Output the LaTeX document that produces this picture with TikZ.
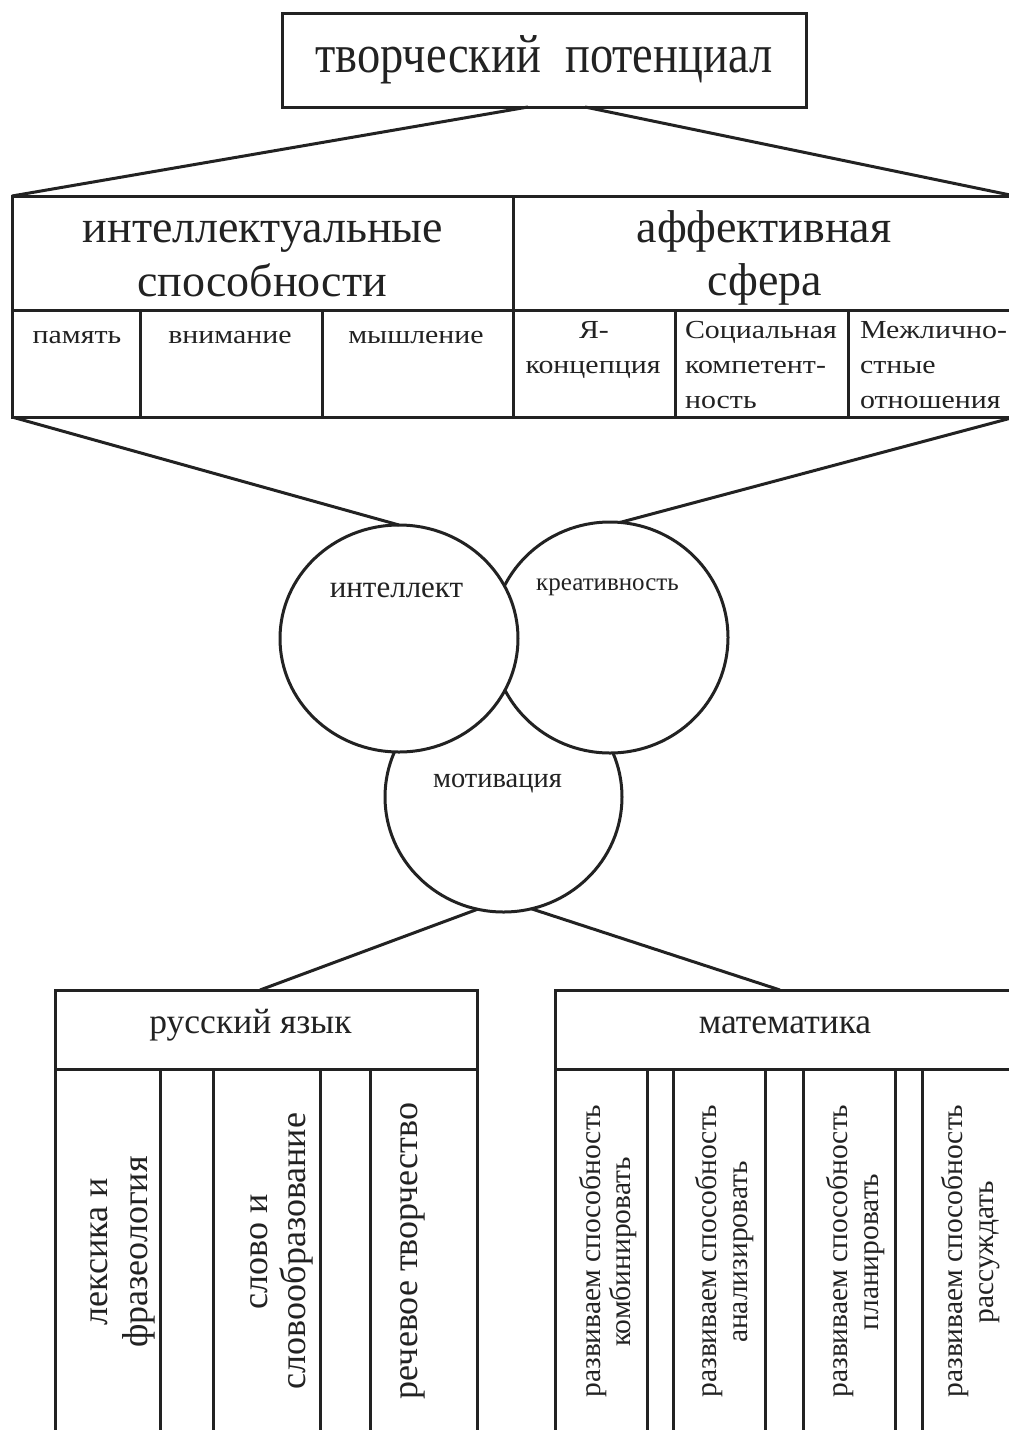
\documentclass[tikz,border=0pt]{standalone}
\usepackage{fontspec}
\setmainfont{Liberation Serif}
\newfontfamily\condfont[FakeStretch=0.86]{Liberation Serif}
\newfontfamily\widefont[FakeStretch=1.15]{Liberation Serif}
\usetikzlibrary{shapes.geometric}
\definecolor{ink}{RGB}{34,34,34}
\newcommand\fsz[2]{\fontsize{#1pt}{#2pt}\selectfont}
\begin{document}
\begin{tikzpicture}[x=1pt,y=-1pt,line width=3pt,color=ink,
  cell/.style={draw,rectangle,inner sep=0pt,outer sep=0pt},
  bubble/.style={draw,ellipse,fill=white,inner sep=0pt,outer sep=0pt},
  txt/.style={inner sep=0pt,outer sep=0pt,anchor=base},
  big/.style={txt,font=\fsz{46}{54}},
  small/.style={txt,font=\widefont\fsz{26}{35}},
  head/.style={txt,font=\fsz{35.5}{40}},
  rus/.style={txt,rotate=90,font=\fsz{36}{40}},
  mat/.style={txt,rotate=90,font=\fsz{29.5}{31}},
  bub/.style={txt}]
\useasboundingbox (0,0) rectangle (1009,1430);
\fill[white] (0,0) rectangle (1009,1430);
\clip (0,0) rectangle (1009,1430);

% top box
\node[cell,minimum width=524pt,minimum height=94pt,font=\condfont\fsz{54}{60}] (top) at (544,60) {творческий\hspace{0.45em}потенциал};
\coordinate (tl) at (528,107);
\coordinate (tr) at (585,107);

% table
\node[cell,minimum width=501pt,minimum height=114pt] (ia) at (262.5,253) {};
\node[cell,minimum width=502pt,minimum height=114pt] (af) at (764,253) {};
\node[cell,minimum width=128pt,minimum height=107pt] (c1) at (76,363.5) {};
\node[cell,minimum width=182pt,minimum height=107pt] (c2) at (231,363.5) {};
\node[cell,minimum width=191pt,minimum height=107pt] (c3) at (417.5,363.5) {};
\node[cell,minimum width=162pt,minimum height=107pt] (c4) at (594,363.5) {};
\node[cell,minimum width=173pt,minimum height=107pt] (c5) at (761.5,363.5) {};
\node[cell,minimum width=167pt,minimum height=107pt] (c6) at (931.5,363.5) {};

\node[big] (t1) at (263,242) {интеллектуальные};
\node[big] (t2) at (262,296) {способности};
\node[big] (t3) at (764,242) {аффективная};
\node[big] (t4) at (765,295) {сфера};

\node[small] (s1) at (77,343) {память};
\node[small] (s2) at (230,343) {внимание};
\node[small] (s3) at (416,343) {мышление};
\node[small] (s4) at (594,338) {Я-};
\node[small] (s5) at (593,373) {концепция};
\node[small,anchor=base west] (s6) at (685,338) {Социальная};
\node[small,anchor=base west] (s7) at (685,373) {компетент-};
\node[small,anchor=base west] (s8) at (685,408) {ность};
\node[small,anchor=base west] (s9) at (860,338) {Межлично-};
\node[small,anchor=base west] (s10) at (860,373) {стные};
\node[small,anchor=base west] (s11) at (860,408) {отношения};

\draw (tl) -- (ia.north west);
\draw (tr) -- (af.north east);

% circles
\node[bubble,minimum width=237pt,minimum height=230pt] (mot) at (503.5,797) {};
\node[bubble,minimum width=236pt,minimum height=231pt] (kre) at (610,637.5) {};
\node[bubble,minimum width=238pt,minimum height=227pt] (int) at (399,638.5) {};
\node[bub,font=\fsz{31}{34}] (lint) at (396.5,597) {интеллект};
\node[bub,font=\fsz{25}{28}] (lkre) at (607.5,590) {креативность};
\node[bub,font=\fsz{28.5}{32}] (lmot) at (497.5,787) {мотивация};

\draw (c1.south west) -- (int.north);
\draw (c6.south east) -- (kre.85);

% bottom boxes
\node[cell,minimum width=422pt,minimum height=79pt] (rus) at (266,1029.5) {};
\node[cell,minimum width=105pt,minimum height=376pt] (r1) at (107.5,1257) {};
\node[cell,minimum width=53pt,minimum height=376pt] (r2) at (186.5,1257) {};
\node[cell,minimum width=107pt,minimum height=376pt] (r3) at (266.5,1257) {};
\node[cell,minimum width=50pt,minimum height=376pt] (r4) at (345,1257) {};
\node[cell,minimum width=107pt,minimum height=376pt] (r5) at (423.5,1257) {};

\node[cell,minimum width=460pt,minimum height=79pt] (mat) at (785,1029.5) {};
\node[cell,minimum width=92pt,minimum height=376pt] (m1) at (601,1257) {};
\node[cell,minimum width=26pt,minimum height=376pt] (m2) at (660,1257) {};
\node[cell,minimum width=92pt,minimum height=376pt] (m3) at (719,1257) {};
\node[cell,minimum width=38pt,minimum height=376pt] (m4) at (784,1257) {};
\node[cell,minimum width=92pt,minimum height=376pt] (m5) at (849,1257) {};
\node[cell,minimum width=27pt,minimum height=376pt] (m6) at (908.5,1257) {};
\node[cell,minimum width=93pt,minimum height=376pt] (m7) at (968.5,1257) {};

\coordinate (rin) at (260,990);
\coordinate (min) at (780,990);
\draw (mot.257) -- (rin);
\draw (mot.284) -- (min);

\node[head] (hr) at (250.5,1033) {русский язык};
\node[head] (hm) at (785,1033) {математика};

\node[rus] (a1) at (107,1252) {лексика и};
\node[rus] (a2) at (147,1252) {фразеология};
\node[rus] (a3) at (267,1252) {слово и};
\node[rus] (a4) at (305,1251) {словообразование};
\node[rus] (a5) at (417,1251) {речевое творчество};

\node[mat] (b1) at (600,1251) {развиваем способность};
\node[mat] (b2) at (630,1252) {комбинировать};
\node[mat] (b3) at (716,1251) {развиваем способность};
\node[mat] (b4) at (747,1252) {анализировать};
\node[mat] (b5) at (847,1251) {развиваем способность};
\node[mat] (b6) at (878,1252) {планировать};
\node[mat] (b7) at (962,1251) {развиваем способность};
\node[mat] (b8) at (993,1252) {рассуждать};
\end{tikzpicture}
\end{document}
